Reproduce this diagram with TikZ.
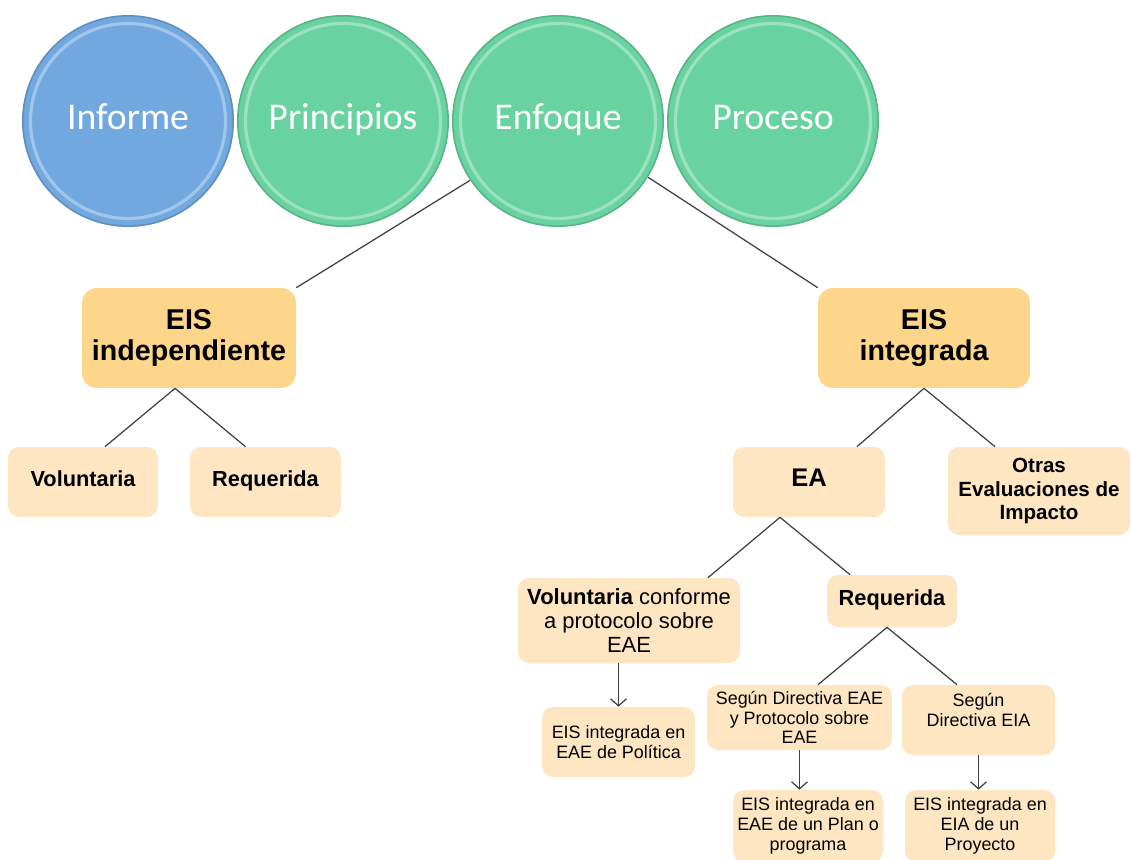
\documentclass[tikz,border=0pt]{standalone}
\usepackage{fontspec}
\setmainfont{Liberation Sans}
\newfontfamily\circfont{Carlito}
\usetikzlibrary{arrows.meta}

\definecolor{blueinf}{HTML}{70A8DF}
\definecolor{greencirc}{HTML}{68D3A0}
\definecolor{boxdark}{HTML}{FDD68C}
\definecolor{boxlight}{HTML}{FEE6C2}
\definecolor{linegray}{HTML}{3F3F3F}

\begin{document}
\begin{tikzpicture}[x=0.02cm,y=-0.02cm,
        circ/.style = {circle, minimum size=4.24cm, text=white, text height=1.15em, text depth=0.2em,
            font=\circfont\fontsize{21.5}{24}\selectfont,
            path picture={
                \draw[white, opacity=0.35, line width=1.8pt] (path picture bounding box.center) circle (1.95cm);
                \draw[black, opacity=0.15, line width=1.2pt] (path picture bounding box.center) circle (2.11cm);}},
        big/.style = {rounded corners=0.3cm, fill=boxdark, align=center, inner sep=0pt,
            font=\bfseries\fontsize{16.3}{18}\selectfont, minimum width=4.28cm, minimum height=2cm},
        mid/.style = {rounded corners=0.22cm, fill=boxlight, align=center, inner sep=0pt},
        oneline/.style = {text height=0.75em, text depth=0.22em},
        small/.style = {mid, font=\fontsize{10.2}{11.2}\selectfont},
        link/.style = {draw=linegray, line width=0.7pt},
        flow/.style = {link, -{Straight Barb[length=4pt,width=9pt]}}]
        \path[use as bounding box, fill=white] (0,0) rectangle (1131,859);

        \node[circ,fill=blueinf] (inf) at (128,121) {Informe};
        \node[circ,fill=greencirc] (pri) at (343,121) {Principios};
        \node[circ,fill=greencirc] (enf) at (558,121) {Enfoque};
        \node[circ,fill=greencirc] (pro) at (773,121) {Proceso};

        \node[big] (indep) at (189,338) {EIS\\independiente};
        \node[big,minimum width=4.24cm] (integ) at (924,338) {EIS\\integrada};

        \node[mid,oneline,font=\bfseries\fontsize{12.4}{14}\selectfont,minimum width=3cm,minimum height=1.4cm] (vol) at (83,482) {Voluntaria};
        \node[mid,oneline,font=\bfseries\fontsize{12.4}{14}\selectfont,minimum width=3.02cm,minimum height=1.4cm] (req) at (265.5,482) {Requerida};
        \node[mid,oneline,font=\bfseries\fontsize{14.5}{16}\selectfont,minimum width=3.04cm,minimum height=1.4cm] (ea) at (809,482) {EA};
        \node[mid,font=\bfseries\fontsize{11.7}{13.3}\selectfont,minimum width=3.64cm,minimum height=1.76cm] (otras) at (1039,491) {Otras\\Evaluaciones de\\Impacto};

        \node[mid,font=\fontsize{12.5}{13.5}\selectfont,minimum width=4.44cm,minimum height=1.7cm] (volc) at (629,620.5) {\textbf{Voluntaria} conforme\\a protocolo sobre\\EAE};
        \node[mid,oneline,font=\bfseries\fontsize{12.4}{14}\selectfont,minimum width=2.6cm,minimum height=1.04cm] (req2) at (892,601) {Requerida};

        \node[small,minimum width=3.06cm,minimum height=1.4cm] (pol) at (618.5,742) {EIS integrada en\\EAE de Política};
        \node[small,minimum width=3.7cm,minimum height=1.3cm] (segeae) at (799.5,717.5) {Según Directiva EAE\\y Protocolo sobre\\EAE};
        \node[small,minimum width=3.06cm,minimum height=1.4cm] (segeia) at (978.5,720) {Según\\Directiva EIA\\\phantom{E}};
        \node[small,minimum width=3cm,minimum height=1.44cm] (plan) at (808,826) {EIS integrada en\\EAE de un Plan o\\programa};
        \node[small,minimum width=3cm,minimum height=1.44cm] (proy) at (980,826) {EIS integrada en\\EIA de un\\Proyecto};

        \draw[link] (enf.214) -- (indep.north east);
        \draw[link] (enf.-32) -- (integ.north west);
        \draw[link] ([xshift=-0.28cm]indep.south) -- ([xshift=0.44cm]vol.north);
        \draw[link] ([xshift=-0.28cm]indep.south) -- ([xshift=-0.4cm]req.north);
        \draw[link] (integ.south) -- ([xshift=0.96cm]ea.north);
        \draw[link] (integ.south) -- ([xshift=-0.88cm]otras.north);
        \draw[link] ([xshift=-0.58cm]ea.south) -- ([xshift=1.58cm]volc.north);
        \draw[link] ([xshift=-0.58cm]ea.south) -- ([xshift=-0.84cm]req2.north);
        \draw[link] ([xshift=-0.1cm]req2.south) -- ([xshift=0.37cm]segeae.north);
        \draw[link] ([xshift=-0.1cm]req2.south) -- ([xshift=-0.43cm]segeia.north);

        \draw[flow] (volc.south -| pol.north) -- (pol.north);
        \draw[flow] (segeae.south) -- (segeae.south |- plan.north);
        \draw[flow] (segeia.south) -- (segeia.south |- proy.north);
    \end{tikzpicture}
\end{document}
